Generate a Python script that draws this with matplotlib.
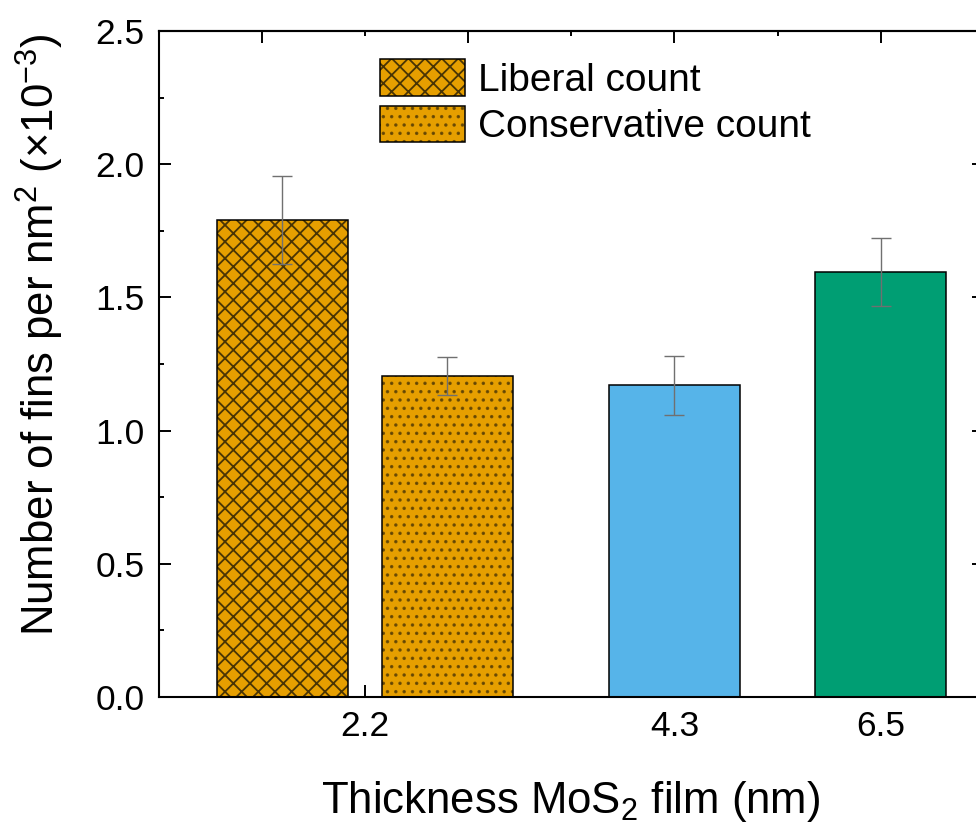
import matplotlib
matplotlib.use("Agg")
import matplotlib.pyplot as plt
from matplotlib.ticker import MultipleLocator, FixedLocator, FormatStrFormatter

# ---- data ----
thickness_labels = ["2.2", "4.3", "6.5"]
liberal_value = [1.79]
liberal_err = [0.165]
conservative_value = [1.205]
conservative_err = [0.072]
other_values = [1.17, 1.595]      # 4.3 nm, 6.5 nm
other_errs = [0.11, 0.128]
legend_labels = ["Liberal count", "Conservative count"]

# ---- style ----
plt.rcParams["font.family"] = ["Liberation Sans", "DejaVu Sans"]
plt.rcParams["mathtext.fontset"] = "custom"
plt.rcParams["mathtext.rm"] = "Liberation Sans"
plt.rcParams["mathtext.it"] = "Liberation Sans:italic"
plt.rcParams["mathtext.bf"] = "Liberation Sans:bold"
plt.rcParams["hatch.linewidth"] = 1.3

orange = "#E69F00"
blue = "#56B4E9"
green = "#009E73"
err_color = "#707070"

fig = plt.figure(figsize=(9.76, 8.23), dpi=100)
ax = fig.add_axes([158.5 / 976, 1 - 697 / 823, (984 - 158.5) / 976, (697 - 31) / 823])

width = 0.635
group_pos = [1.5, 3.0, 4.0]
offset = 0.4

bar_kw = dict(width=width, edgecolor="black", linewidth=1.1, zorder=2)
err_kw = dict(ecolor=err_color, elinewidth=1.0, capsize=7, capthick=1.0)

b1 = ax.bar([group_pos[0] - offset], liberal_value, color=orange, hatch="xx",
            yerr=liberal_err, error_kw=err_kw, **bar_kw)
b2 = ax.bar([group_pos[0] + offset], conservative_value, color=orange, hatch="..",
            yerr=conservative_err, error_kw=err_kw, **bar_kw)
for b in b1:
    b._hatch_color = matplotlib.colors.to_rgba("#2e2205", 0.85)
for b in b2:
    b._hatch_color = matplotlib.colors.to_rgba("#5a4005", 0.8)
ax.bar(group_pos[1:], other_values, color=[blue, green],
       yerr=other_errs, error_kw=err_kw, **bar_kw)

ax.set_xlim(0.5, 4.5)
ax.set_ylim(0, 2.5)
ax.set_axisbelow(True)

for s in ax.spines.values():
    s.set_linewidth(1.5)

ax.yaxis.set_major_locator(MultipleLocator(0.5))
ax.yaxis.set_minor_locator(MultipleLocator(0.25))
ax.yaxis.set_major_formatter(FormatStrFormatter("%.1f"))
ax.tick_params(axis="y", which="major", direction="in", length=8.6, width=1.4,
               labelsize=25.5, pad=10, right=True)
ax.tick_params(axis="y", which="minor", direction="in", length=3.6, width=1.4, right=True)

ax.set_xticks(group_pos)
ax.set_xticklabels(thickness_labels)
ax.tick_params(axis="x", which="major", direction="in", length=8.6, width=1.4,
               labelsize=25.5, pad=9, top=False)
ax.tick_params(axis="x", which="minor", bottom=False, top=False)

top = ax.secondary_xaxis("top")
top.set_xticks([1, 2, 3, 4])
top.xaxis.set_minor_locator(FixedLocator([1.5, 2.5, 3.5]))
top.tick_params(axis="x", which="major", direction="in", length=8.6, width=1.4, labeltop=False)
top.tick_params(axis="x", which="minor", direction="in", length=3.6, width=1.4)
top.set_xticklabels([])
top.spines["top"].set_linewidth(1.5)

fig.text(40 / 976, 1 - 335 / 823, r"Number of fins per nm$^2$ (×10$^{-3}$)",
         rotation=90, ha="center", va="center", fontsize=31.5)
fig.text(571 / 976, 1 - 813 / 823, r"Thickness MoS$_2$ film (nm)",
         ha="center", va="baseline", fontsize=31.5)

leg = ax.legend([b1, b2], legend_labels, loc="upper left",
                bbox_to_anchor=((380 - 158.5) / 825.5, (697 - 59) / 666),
                frameon=False, fontsize=28, handlelength=2.19, handleheight=1.08,
                handletextpad=0.33, labelspacing=0.18, borderpad=0, borderaxespad=0)

fig.savefig("out.png", dpi=100)
